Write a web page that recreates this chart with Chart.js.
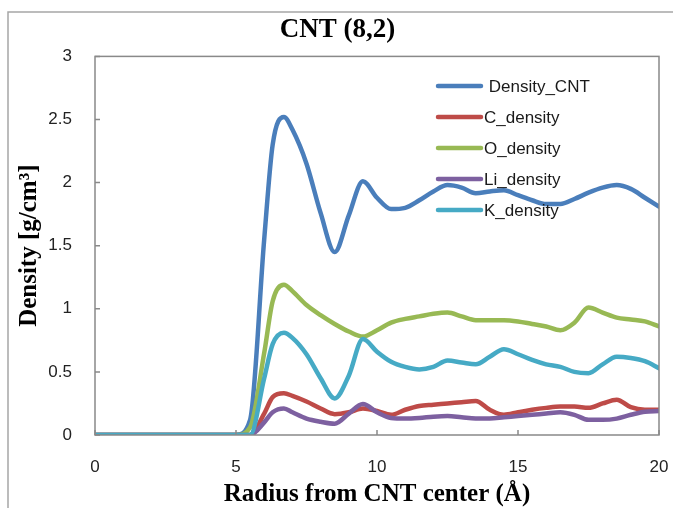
<!DOCTYPE html>
<html>
<head>
<meta charset="utf-8">
<script src="https://cdn.jsdelivr.net/npm/chart.js@4.4.1/dist/chart.umd.min.js"></script>
<style>
  html, body { margin: 0; padding: 0; background: #fff; }
  #wrap { width: 673px; height: 508px; }
</style>
</head>
<body>
<div id="wrap"><canvas id="densityChart" width="673" height="508"></canvas></div>
<script>
// Rayon depuis le centre du nanotube (Å)
const radius = [0, 5, 5.5, 6, 6.3, 6.7, 7, 7.5, 8, 8.5, 9, 9.5, 10, 10.5, 11, 11.5, 12, 12.5,
                13, 13.5, 14, 14.5, 15, 15.5, 16, 16.5, 17, 17.5, 18, 18.5, 19, 19.5, 20];

// Densités (g/cm3) pour chaque rayon
const densityCNT = [0, 0, 0.12, 1.55, 2.3, 2.52, 2.42, 2.15, 1.76, 1.45, 1.74, 2.01, 1.88, 1.79, 1.8, 1.86, 1.93, 1.98,
                    1.96, 1.915, 1.93, 1.94, 1.9, 1.86, 1.83, 1.83, 1.87, 1.92, 1.96, 1.98, 1.95, 1.88, 1.81];
const cDensity  = [0, 0, 0, 0.17, 0.3, 0.33, 0.31, 0.265, 0.21, 0.165, 0.18, 0.21, 0.19, 0.16, 0.2, 0.23, 0.24, 0.25,
                   0.26, 0.27, 0.2, 0.16, 0.18, 0.2, 0.215, 0.225, 0.225, 0.215, 0.25, 0.28, 0.22, 0.2, 0.2];
const oDensity  = [0, 0, 0.06, 0.65, 1.06, 1.19, 1.14, 1.03, 0.95, 0.88, 0.82, 0.78, 0.83, 0.89, 0.92, 0.94, 0.96, 0.97,
                   0.94, 0.91, 0.91, 0.91, 0.9, 0.88, 0.86, 0.83, 0.89, 1.01, 0.97, 0.93, 0.915, 0.9, 0.86];
const liDensity = [0, 0, 0, 0.1, 0.18, 0.21, 0.18, 0.13, 0.105, 0.09, 0.17, 0.245, 0.18, 0.135, 0.13, 0.135, 0.145, 0.15,
                   0.14, 0.13, 0.13, 0.14, 0.15, 0.16, 0.17, 0.18, 0.16, 0.12, 0.12, 0.13, 0.16, 0.185, 0.19];
const kDensity  = [0, 0, 0, 0.45, 0.72, 0.81, 0.77, 0.64, 0.45, 0.29, 0.47, 0.76, 0.66, 0.58, 0.54, 0.52, 0.54, 0.59,
                   0.575, 0.56, 0.62, 0.68, 0.64, 0.595, 0.56, 0.54, 0.5, 0.49, 0.56, 0.62, 0.61, 0.585, 0.53];

const seriesNames = ['Density_CNT', 'C_density', 'O_density', 'Li_density', 'K_density'];
const seriesColors = ['#4A7EBB', '#BE4B48', '#98B954', '#7D60A0', '#46AAC5'];
const seriesValues = [densityCNT, cDensity, oDensity, liDensity, kDensity];

const xTicks = [0, 5, 10, 15, 20];
const yTicks = [0, 0.5, 1, 1.5, 2, 2.5, 3];

const toPoints = vals => radius.map((r, i) => ({ x: r, y: vals[i] }));

// Cadre extérieur, bordure de la zone de tracé, graduations et légende
const framePlugin = {
    id: 'frame',
    beforeDraw(chart) {
        const c = chart.ctx;
        c.save();
        c.strokeStyle = '#A6A6A6';
        c.lineWidth = 1.5;
        c.beginPath();
        c.moveTo(8, 520);
        c.lineTo(8, 12);
        c.lineTo(680, 12);
        c.stroke();
        c.restore();
    },
    afterDatasetsDraw(chart) {
        const c = chart.ctx;
        const a = chart.chartArea;
        const xs = chart.scales.x, ys = chart.scales.y;
        c.save();
        c.strokeStyle = '#898989';
        c.lineWidth = 1.5;
        c.strokeRect(a.left, a.top, a.right - a.left, a.bottom - a.top);
        c.beginPath();
        xTicks.forEach(v => {
            const px = xs.getPixelForValue(v);
            c.moveTo(px, a.bottom);
            c.lineTo(px, a.bottom - 5);
        });
        yTicks.forEach(v => {
            const py = ys.getPixelForValue(v);
            c.moveTo(a.left, py);
            c.lineTo(a.left + 5, py);
        });
        c.stroke();

        // légende dans le coin supérieur droit
        c.font = '17px "Liberation Sans", Arial, sans-serif';
        c.textBaseline = 'middle';
        c.fillStyle = '#1a1a1a';
        chart.data.datasets.forEach((ds, i) => {
            const y = 86 + i * 31;
            c.strokeStyle = ds.borderColor;
            c.lineWidth = 4.5;
            c.lineCap = 'round';
            c.beginPath();
            c.moveTo(438, y);
            c.lineTo(481, y);
            c.stroke();
            c.fillText(i === 0 ? ' ' + ds.label : ds.label, 484, y + 1);
        });
        c.restore();
    }
};

const tickFont = { family: '"Liberation Sans", Arial, sans-serif', size: 17 };
const titleFont = { family: '"Liberation Serif", "Times New Roman", serif', size: 25, weight: 'bold', lineHeight: 1.1 };

const ctx = document.getElementById('densityChart').getContext('2d');
const densityChart = new Chart(ctx, {
    type: 'line',
    data: {
        datasets: seriesNames.map((name, i) => ({
            label: name,
            data: toPoints(seriesValues[i]),
            borderColor: seriesColors[i],
            backgroundColor: seriesColors[i],
            borderWidth: 4.5,
            borderCapStyle: 'round',
            borderJoinStyle: 'round',
            pointRadius: 0,
            fill: false,
            cubicInterpolationMode: 'monotone',
            order: seriesNames.length - i // la dernière série passe au-dessus
        }))
    },
    options: {
        responsive: false,
        animation: false,
        layout: { padding: { top: 14, left: 16, right: 14, bottom: 0 } },
        plugins: {
            legend: { display: false },
            tooltip: { enabled: false },
            title: {
                display: true,
                text: 'CNT (8,2)',
                color: '#000',
                font: { family: '"Liberation Serif", "Times New Roman", serif', size: 27, weight: 'bold' },
                padding: { top: 0, bottom: 10 }
            }
        },
        scales: {
            x: {
                type: 'linear',
                min: 0,
                max: 20,
                grid: { display: false, tickLength: 0 },
                border: { display: false },
                afterBuildTicks: scale => { scale.ticks = xTicks.map(v => ({ value: v })); },
                afterFit: scale => {
                    scale.height = 73;
                    scale.paddingLeft = 0;
                    scale.paddingRight = 0;
                },
                ticks: { color: '#222', padding: 22, font: tickFont },
                title: {
                    display: true,
                    text: 'Radius from CNT center (Å)',
                    color: '#000',
                    padding: { top: 0, bottom: 0 },
                    font: titleFont
                }
            },
            y: {
                min: 0,
                max: 3,
                grid: { display: false, tickLength: 0 },
                border: { display: false },
                afterBuildTicks: scale => { scale.ticks = yTicks.map(v => ({ value: v })); },
                afterFit: scale => { scale.width = 79; },
                ticks: {
                    color: '#222',
                    padding: 23,
                    font: tickFont,
                    callback: v => String(v)
                },
                title: {
                    display: true,
                    text: 'Density [g/cm³]',
                    color: '#000',
                    padding: { top: 0, bottom: 0 },
                    font: titleFont
                }
            }
        }
    },
    plugins: [framePlugin]
});
</script>
</body>
</html>
